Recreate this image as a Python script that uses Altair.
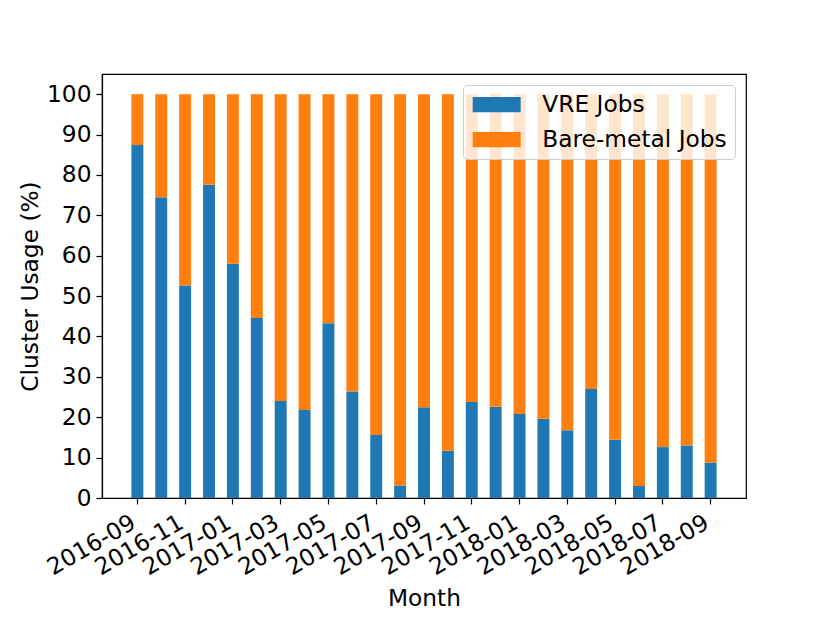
import altair as alt
import pandas as pd

months = ["2016-09", "2016-10", "2016-11", "2016-12", "2017-01", "2017-02", "2017-03",
          "2017-04", "2017-05", "2017-06", "2017-07", "2017-08", "2017-09", "2017-10",
          "2017-11", "2017-12", "2018-01", "2018-02", "2018-03", "2018-04", "2018-05",
          "2018-06", "2018-07", "2018-08", "2018-09"]
vre_jobs = [87.4, 74.5, 52.6, 77.6, 58.0, 44.6, 24.0, 21.8, 43.3, 26.4, 15.6, 3.1, 22.5,
            11.7, 23.8, 22.6, 20.8, 19.6, 16.8, 27.0, 14.4, 3.0, 12.6, 13.0, 8.8]
bare_metal_jobs = [12.6, 25.5, 47.4, 22.4, 42.0, 55.4, 76.0, 78.2, 56.7, 73.6, 84.4, 96.9,
                   77.5, 88.3, 76.2, 77.4, 79.2, 80.4, 83.2, 73.0, 85.6, 97.0, 87.4, 87.0,
                   91.2]
series = ["VRE Jobs", "Bare-metal Jobs"]
colors = ["#1f77b4", "#ff7f0e"]
y_ticks = [0, 10, 20, 30, 40, 50, 60, 70, 80, 90, 100]
x_ticks = months[::2]

rows = []
for m, v, b in zip(months, vre_jobs, bare_metal_jobs):
    rows.append({"Month": m, "Job": series[0], "Usage": v, "order": 0})
    rows.append({"Month": m, "Job": series[1], "Usage": b, "order": 1})
df = pd.DataFrame(rows)

FONT = "DejaVu Sans"
FS = 23.3

chart = alt.Chart(df).mark_bar().encode(
    x=alt.X("Month:N", sort=months,
            scale=alt.Scale(paddingInner=0.5, paddingOuter=0, range=[29.4, 614.6]),
            axis=alt.Axis(values=x_ticks, labelAngle=-30, labelAlign="right",
                          labelBaseline="top", labelPadding=7, labelOffset=-9,
                          tickSize=6, title="Month", titleBaseline="alphabetic",
                          titleY=107)),
    y=alt.Y("Usage:Q", stack="zero",
            scale=alt.Scale(domain=[0, 105], nice=False),
            axis=alt.Axis(values=y_ticks, tickSize=6, labelPadding=5, grid=False,
                          title="Cluster Usage (%)", titleBaseline="alphabetic",
                          titleX=-65, titleY=212)),
    color=alt.Color("Job:N",
                    scale=alt.Scale(domain=series, range=colors),
                    legend=alt.Legend(orient="top-right", title=None,
                                      symbolType="M-1.04,-0.8L3.96,-0.8L3.96,0.8L-1.04,0.8Z",
                                      symbolSize=369, symbolStrokeWidth=0,
                                      labelFontSize=FS, labelFont=FONT,
                                      labelColor="black", labelOffset=48,
                                      labelLimit=500,
                                      fillColor="rgba(255,255,255,0.8)",
                                      strokeColor="#cccccc", cornerRadius=4,
                                      padding=8, offset=11, rowPadding=11)),
    order=alt.Order("order:Q", sort="ascending"),
).properties(
    width=644, height=424,
    autosize=alt.AutoSizeParams(type="none"),
    padding={"left": 94, "top": 66, "right": 60, "bottom": 118},
).configure_view(
    stroke="black", strokeWidth=1.2
).configure_axis(
    domainColor="black", domainWidth=1.2, tickColor="black", tickWidth=1.2,
    labelColor="black", titleColor="black", labelFont=FONT, titleFont=FONT,
    labelFontSize=FS, titleFontSize=FS, titleFontWeight="normal", grid=False
)

chart.save("out.html", embed_options={"renderer": "svg", "actions": False})
